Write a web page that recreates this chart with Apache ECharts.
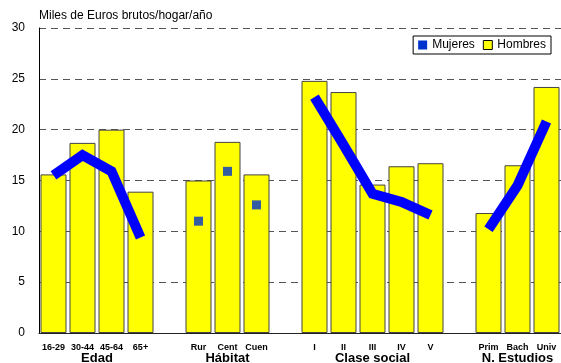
<!DOCTYPE html>
<html><head><meta charset="utf-8">
<script src="https://cdn.jsdelivr.net/npm/echarts@6/dist/echarts.min.js"></script>
<style>html,body{margin:0;padding:0;background:#fff}#c{width:561px;height:363px}</style>
</head><body><div id="c"></div>
<script>
var categories = ['16-29','30-44','45-64','65+','', 'Rur','Cent','Cuen','', 'I','II','III','IV','V','', 'Prim','Bach','Univ'];
var hombres = [15.6,18.7,20.0,13.9,null, 15.0,18.8,15.6,null, 24.8,23.7,14.6,16.4,16.7,null, 11.8,16.5,24.2];
var mujeresLinea = [15.5,17.5,15.9,9.4,null, null,null,null,null, 23.2,18.5,13.7,12.9,11.6,null, 10.2,14.5,20.8];
var mujeresHabitat = [null,null,null,null,null, 11.0,15.9,12.6,null, null,null,null,null,null,null, null,null,null];
var groups = [
  {name:'Edad', from:0, to:3},
  {name:'Hábitat', from:5, to:7},
  {name:'Clase social', from:9, to:13},
  {name:'N. Estudios', from:15, to:17}
];
var yTicks = [0,5,10,15,20,25,30];

var chart = echarts.init(document.getElementById('c'));
var font = 'Liberation Sans, Arial, sans-serif';
chart.setOption({
  animation:false,
  textStyle:{fontFamily:font},
  grid:{left:39,right:0,top:28,bottom:30,containLabel:false},
  legend:{
    right:10, top:36, itemWidth:9, itemHeight:9, itemGap:8,
    borderColor:'#000', borderWidth:1, padding:[3,5,3,5],
    textStyle:{fontSize:12,color:'#000',fontFamily:font},
    data:[{name:'Mujeres',icon:'rect',itemStyle:{color:'#0033CC',borderWidth:0}},
          {name:'Hombres',icon:'rect',itemStyle:{color:'#FFFF00',borderColor:'#000',borderWidth:1}}]
  },
  xAxis:{
    type:'category', data:categories,
    axisLine:{lineStyle:{color:'#222',width:1}},
    axisTick:{show:false},
    axisLabel:{interval:0,fontSize:9,fontWeight:'bold',color:'#000',margin:10}
  },
  yAxis:{
    type:'value', min:0, max:30, interval:5,
    axisLine:{show:true,lineStyle:{color:'#000'}},
    axisTick:{show:false},
    axisLabel:{fontSize:12,color:'#000',margin:14},
    splitLine:{lineStyle:{color:'#555',type:[7,5],width:1}},
    name:'Miles de Euros brutos/hogar/año', nameLocation:'end', nameGap:6,
    nameTextStyle:{fontSize:12,color:'#000',align:'left',padding:[0,0,0,0]}
  },
  series:[
    {name:'Hombres',type:'bar',data:hombres,barWidth:26,
     itemStyle:{color:'#FFFF00',borderColor:'#444',borderWidth:1}},
    {name:'Mujeres',type:'line',data:mujeresLinea,symbol:'none',connectNulls:false,
     lineStyle:{color:'#0000FF',width:10,join:'miter',cap:'butt'},z:5},
    {name:'Mujeres',type:'scatter',data:mujeresHabitat,symbol:'rect',symbolSize:9,
     itemStyle:{color:'#0033CC'},z:6}
  ]
});

var gfx = groups.map(function(g){
  var x1 = chart.convertToPixel({xAxisIndex:0}, g.from);
  var x2 = chart.convertToPixel({xAxisIndex:0}, g.to);
  return {type:'text', x:(x1+x2)/2, y:352,
    style:{text:g.name, font:'bold 13px '+font, fill:'#000', textAlign:'center', textVerticalAlign:'top'}};
});
chart.setOption({graphic:gfx});
</script></body></html>
